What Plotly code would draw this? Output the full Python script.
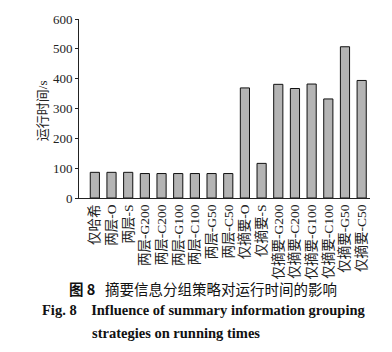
import plotly.graph_objects as go

categories = ["仅哈希", "两层-O", "两层-S", "两层-G200", "两层-C200", "两层-G100", "两层-C100",
              "两层-G50", "两层-C50", "仅摘要-O", "仅摘要-S", "仅摘要-G200", "仅摘要-C200",
              "仅摘要-G100", "仅摘要-C100", "仅摘要-G50", "仅摘要-C50"]
run_times = [86, 86, 86, 82, 82, 82, 82, 82, 82, 369, 116, 381, 367, 382, 332, 507, 394]
y_ticks = [0, 100, 200, 300, 400, 500, 600]

W, H = 392, 352
L, R, T, B = 79, 22, 14, 153.6
plot_w = W - L - R
plot_h = H - T - B

def py(y):
    return (H - B - y) / plot_h

def px(x):
    return (x - L) / plot_w

serif = "Liberation Serif, Noto Sans CJK SC"

fig = go.Figure(go.Bar(
    x=list(range(len(categories))), y=run_times,
    width=0.55,
    marker=dict(color="#b4b4b4", line=dict(color="#111111", width=1)),
))

fig.update_layout(
    width=W, height=H,
    margin=dict(l=L, r=R, t=T, b=B),
    paper_bgcolor="white", plot_bgcolor="white",
    showlegend=False,
    font=dict(family=serif, color="#222222", size=12),
    xaxis=dict(
        range=[-0.95, 16.5], tickmode="array", tickvals=list(range(len(categories))),
        ticktext=categories, tickangle=-90, showline=True, linecolor="#222222",
        linewidth=1, ticks="", showgrid=False, zeroline=False,
        tickfont=dict(family=serif, size=13.5),
    ),
    yaxis=dict(
        range=[0, 600], tickmode="array", tickvals=y_ticks,
        showline=True, linecolor="#222222", linewidth=1, ticks="outside",
        ticklen=3, tickcolor="#222222", showgrid=False, zeroline=False,
        tickfont=dict(family=serif, size=13),
    ),
    annotations=[
        dict(text="运行时间/s", xref="paper", yref="paper", textangle=-90,
             x=px(42), y=py(109), xanchor="center", yanchor="middle",
             showarrow=False, font=dict(family=serif, size=13, color="#222222")),
        dict(text="<b>图 8</b>   摘要信息分组策略对运行时间的影响", xref="paper", yref="paper",
             x=px(203), y=py(292), xanchor="center", yanchor="middle",
             showarrow=False, font=dict(family="Noto Sans CJK SC", size=14.5, color="#111111")),
        dict(text="<b>Fig. 8    Influence of summary information grouping</b>", xref="paper", yref="paper",
             x=px(40), y=py(314), xanchor="left", yanchor="middle",
             showarrow=False, font=dict(family="Liberation Serif", size=14.5, color="#111111")),
        dict(text="<b>strategies on running times</b>", xref="paper", yref="paper",
             x=px(90), y=py(337), xanchor="left", yanchor="middle",
             showarrow=False, font=dict(family="Liberation Serif", size=14.5, color="#111111")),
    ],
)

fig.write_html("out.html")
